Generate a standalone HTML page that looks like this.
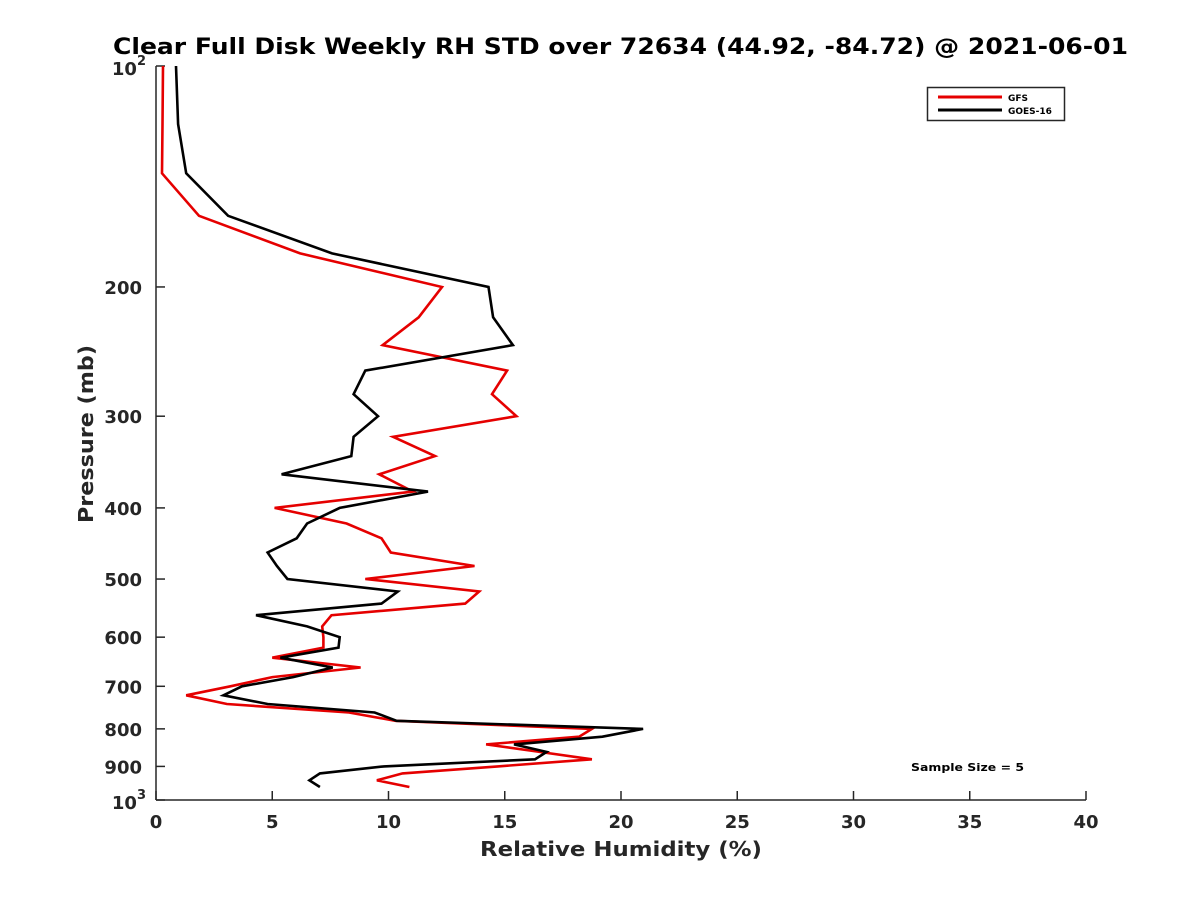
<!DOCTYPE html>
<html><head><meta charset="utf-8"><style>
body{margin:0;background:#fff;}
svg text{font-family:"DejaVu Sans","Liberation Sans",sans-serif;font-weight:bold;fill:#262626;}
</style></head><body>
<svg id="chart" width="1200" height="900" xmlns="http://www.w3.org/2000/svg">
<rect width="1200" height="900" fill="#fff"/>
<text x="113" y="54" textLength="1015" lengthAdjust="spacingAndGlyphs" font-size="22" style="fill:#000">Clear Full Disk Weekly RH STD over 72634 (44.92, -84.72) @ 2021-06-01</text>
<g id="axes"></g>
<g id="series"></g>
<text x="480" y="856" textLength="282" lengthAdjust="spacingAndGlyphs" font-size="20">Relative Humidity (%)</text>
<text transform="translate(93,523) rotate(-90)" textLength="178" lengthAdjust="spacingAndGlyphs" font-size="20">Pressure (mb)</text>
<text x="911" y="771" textLength="113" lengthAdjust="spacingAndGlyphs" font-size="11" style="fill:#000">Sample Size = 5</text>
<g>
<rect x="927.5" y="87.5" width="137" height="33" fill="#fff" stroke="#262626" stroke-width="1.5"/>
<line x1="938" y1="97" x2="1002" y2="97" stroke="#e50000" stroke-width="3"/>
<text x="1008" y="101" font-size="9" style="fill:#000">GFS</text>
<line x1="938" y1="110" x2="1002" y2="110" stroke="#000" stroke-width="3"/>
<text x="1008" y="114" font-size="9" style="fill:#000">GOES-16</text>
</g>
</svg>
<script>
const pressures=[100,120,140,160,180,200,220,240,260,280,300,320,340,360,380,400,420,440,460,480,500,520,540,560,580,600,620,640,660,680,700,720,740,760,780,800,820,840,860,880,900,920,940,960];
const gfsValues=[0.3,0.28,0.26,1.85,6.2,12.3,11.3,9.75,15.1,14.45,15.5,10.2,12.0,9.6,11.05,5.1,8.2,9.7,10.1,13.7,9.0,13.9,13.3,7.55,7.15,7.2,7.2,5.0,8.8,5.0,3.2,1.3,3.05,8.3,10.3,18.75,18.2,14.2,16.5,18.75,14.7,10.6,9.5,10.9];
const goesValues=[0.86,0.95,1.3,3.1,7.57,14.3,14.5,15.35,9.0,8.5,9.55,8.5,8.4,5.4,11.7,7.9,6.5,6.05,4.8,5.2,5.65,10.4,9.7,4.3,6.5,7.9,7.85,5.35,7.6,5.9,3.7,2.9,4.8,9.4,10.35,20.95,19.2,15.4,16.8,16.3,9.8,7.05,6.6,7.05];
const xTicks=[0,5,10,15,20,25,30,35,40];
const yTicks=[200,300,400,500,600,700,800,900];
const NS="http://www.w3.org/2000/svg";
const X0=156,X1=1086,Y0=66,Y1=800;
function xs(v){return X0+(v-0)/(40-0)*(X1-X0);}
function ys(p){return Y0+(Math.log10(p)-2)*(Y1-Y0);}
function mk(tag,attrs,parent){const e=document.createElementNS(NS,tag);for(const k in attrs)e.setAttribute(k,attrs[k]);parent.appendChild(e);return e;}
const ax=document.getElementById('axes');
let e;
e=mk('line',{x1:X0,y1:Y0,x2:X0,y2:Y1,stroke:'#262626','stroke-width':1.5},ax);


e=mk('line',{x1:X0,y1:Y1,x2:X1,y2:Y1,stroke:'#262626','stroke-width':1.5},ax);


xTicks.forEach(t=>{
  const x=xs(t);
  e=mk('line',{x1:x,y1:Y1,x2:x,y2:Y1-9,stroke:'#262626','stroke-width':1.5},ax);
  
  
  e=mk('text',{x:x,y:Y1+28,'text-anchor':'middle','font-size':18},ax);
  e.textContent=t;
  
  
});
[100].concat(yTicks,[1000]).forEach(p=>{
  const y=ys(p);
  e=mk('line',{x1:X0,y1:y,x2:X0+9,y2:y,stroke:'#262626','stroke-width':1.5},ax);
  
  
});
yTicks.forEach(p=>{
  e=mk('text',{x:X0-14,y:ys(p)+7,'text-anchor':'end','font-size':18},ax);
  e.textContent=p;
  
  
});
[[100,'2'],[1000,'3']].forEach(([p,s])=>{
  const y=ys(p);
  e=mk('text',{x:X0-10,y:y+9,'text-anchor':'end','font-size':18},ax);
  e.innerHTML='10<tspan font-size="13" dy="-10">'+s+'</tspan>';
  
  
});
const sg=document.getElementById('series');
function line(vals,color,name){
  const pts=pressures.map((p,i)=>xs(vals[i]).toFixed(1)+','+ys(p).toFixed(1)).join(' ');
  const pl=mk('polyline',{points:pts,fill:'none',stroke:color,'stroke-width':2.6,'stroke-linejoin':'miter'},sg);
  
  
}
line(gfsValues,'#e50000','gfs-line');
line(goesValues,'#000000','goes16-line');
</script>
</body></html>
